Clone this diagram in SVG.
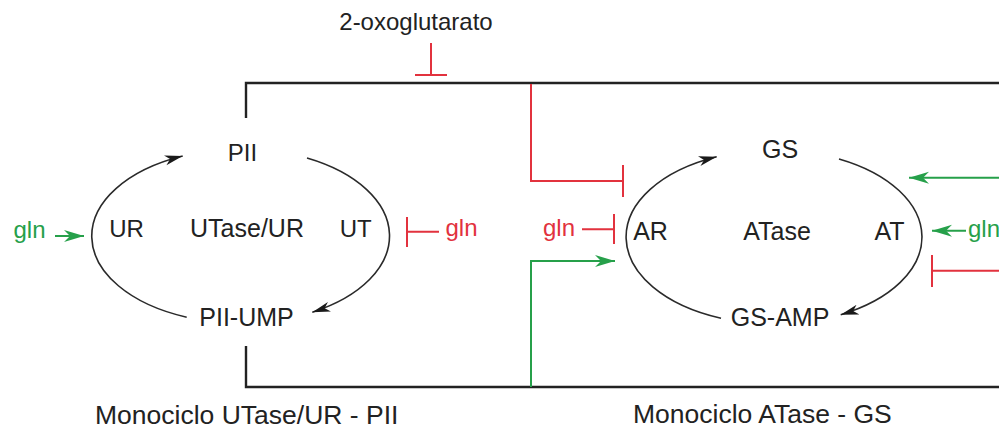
<svg xmlns="http://www.w3.org/2000/svg" width="999" height="430" viewBox="0 0 999 430">
  <style>
    text { font-family: "Liberation Sans", Arial, sans-serif; fill: #222; }
    .lbl { font-size: 24px; text-anchor: middle; }
    .big { font-size: 25px; text-anchor: middle; }
    .cap { font-size: 26.5px; }
    .red { fill: #e2323e; }
    .grn { fill: #26a04a; }
    .frame { fill: none; stroke: #222; stroke-width: 2.4; }
    .cyc { fill: none; stroke: #2a2a2a; stroke-width: 1.6; }
    .inh { fill: none; stroke: #e2323e; stroke-width: 2; }
    .act { fill: none; stroke: #26a04a; stroke-width: 2; }
  </style>
  <defs>
    <marker id="ahBlack" markerUnits="userSpaceOnUse" markerWidth="20" markerHeight="12" refX="18" refY="5" orient="auto">
      <path d="M0,0 L18,5 L0,10 L5,5 Z" fill="#1a1a1a"/>
    </marker>
    <marker id="ahGreen" markerUnits="userSpaceOnUse" markerWidth="22" markerHeight="14" refX="20" refY="6" orient="auto">
      <path d="M0,0 L20,6 L0,12 L6,6 Z" fill="#26a04a"/>
    </marker>
  </defs>

  <!-- feedback frame linking both monocycles -->
  <g id="frame">
    <path class="frame" d="M246,118 V83 H1005"/>
    <path class="frame" d="M246,346 V387 H1005"/>
  </g>

  <!-- connectors -->
  <g id="connectors">
    <!-- UTase/UR cycle arcs -->
    <path class="cyc" d="M186.7,317.2 A149,87 0 0 1 182.7,156" marker-end="url(#ahBlack)"/>
    <path class="cyc" d="M307,158.1 A149,87 0 0 1 312.3,312.2" marker-end="url(#ahBlack)"/>
    <!-- ATase cycle arcs -->
    <path class="cyc" d="M721,318.2 A148,87 0 0 1 716.7,156.8" marker-end="url(#ahBlack)"/>
    <path class="cyc" d="M839,158.9 A148,87 0 0 1 840.7,314.7" marker-end="url(#ahBlack)"/>

    <!-- 2-oxoglutarato inhibition -->
    <path class="inh" d="M431,43 V75 M415,75 H447"/>
    <!-- frame to AR inhibition -->
    <path class="inh" d="M531,84 V181 H623 M623,165 V197"/>
    <!-- frame to AR activation -->
    <path class="act" d="M531,387 V261 H615" marker-end="url(#ahGreen)"/>
    <!-- gln on UR -->
    <path class="act" d="M55,236 H84" marker-end="url(#ahGreen)"/>
    <!-- gln on UT -->
    <path class="inh" d="M439,231.7 H407 M407,217 V247"/>
    <!-- gln on AR -->
    <path class="inh" d="M582,229.3 H614 M614,214 V244"/>
    <!-- inputs on AT -->
    <path class="act" d="M1005,177.7 H909" marker-end="url(#ahGreen)"/>
    <path class="act" d="M966,230.7 H932" marker-end="url(#ahGreen)"/>
    <path class="inh" d="M1005,270.7 H932 M932,255 V287"/>
  </g>

  <g id="oxo"><text class="lbl" x="416" y="30">2-oxoglutarato</text></g>

  <!-- UTase/UR - PII monocycle -->
  <g id="pii"><text class="lbl" x="242.5" y="161">PII</text></g>
  <g id="pii-ump"><text class="big" x="246.5" y="326">PII-UMP</text></g>
  <g id="ur"><text class="lbl" x="126.5" y="237">UR</text></g>
  <g id="utase"><text class="big" x="247" y="237">UTase/UR</text></g>
  <g id="ut"><text class="lbl" x="355.7" y="237">UT</text></g>
  <g id="gln-ur"><text class="lbl grn" x="29.5" y="238">gln</text></g>
  <g id="gln-ut"><text class="lbl red" x="461.5" y="236">gln</text></g>

  <!-- ATase - GS monocycle -->
  <g id="gs"><text class="big" x="780" y="158">GS</text></g>
  <g id="gs-amp"><text class="big" x="780" y="326">GS-AMP</text></g>
  <g id="ar"><text class="big" x="650.5" y="240">AR</text></g>
  <g id="atase"><text class="big" x="777" y="240">ATase</text></g>
  <g id="at"><text class="big" x="889.5" y="240">AT</text></g>
  <g id="gln-ar"><text class="lbl red" x="559" y="236">gln</text></g>
  <g id="gln-at"><text class="lbl grn" x="968" y="237" style="text-anchor:start">gln</text></g>

  <g id="captions">
    <text class="cap" x="95" y="424">Monociclo UTase/UR - PII</text>
    <text class="cap" x="633" y="423">Monociclo ATase - GS</text>
  </g>
</svg>
